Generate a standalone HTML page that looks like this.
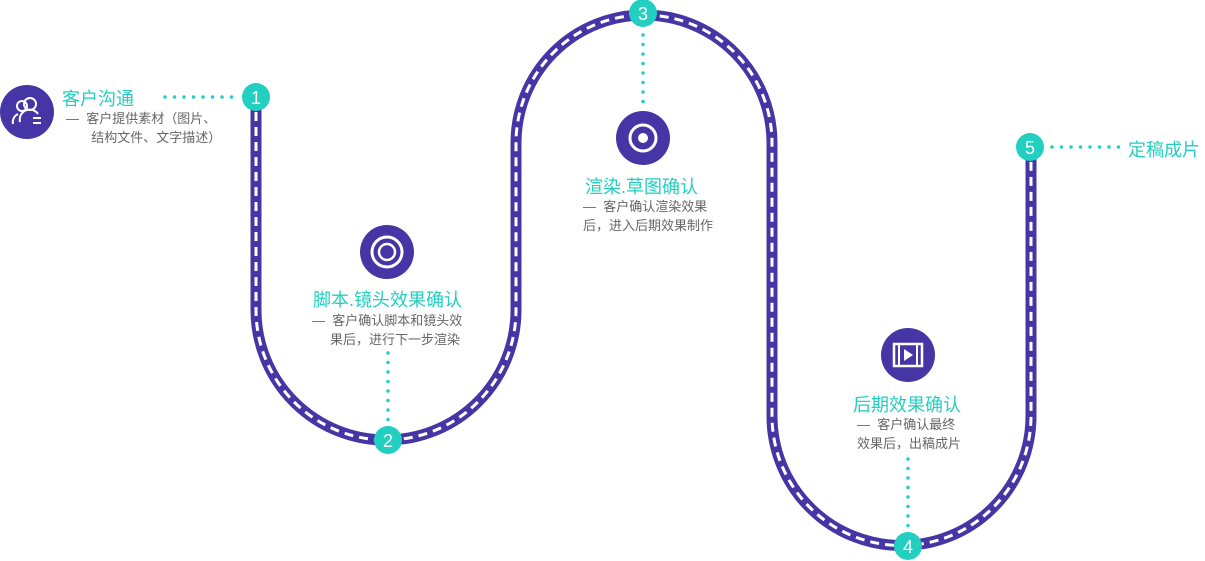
<!DOCTYPE html>
<html><head><meta charset="utf-8"><style>
body{margin:0;width:1205px;height:561px;background:#fff;overflow:hidden;position:relative;font-family:"Liberation Sans","Noto Sans CJK SC",sans-serif}
.t{position:absolute;color:#22cfc0;font-size:18px;white-space:nowrap}
.d{position:absolute;color:#666;font-size:13px;line-height:19px;white-space:nowrap}
svg{position:absolute;left:0;top:0}
</style></head><body>
<svg width="1205" height="561">
<path d="M256,97 V310 A130,130 0 0 0 516,310 V143 A128,128 0 0 1 772,143 V416 A129.5,129.5 0 0 0 1031,416 V147" fill="none" stroke="#4535a5" stroke-width="11"/>
<path d="M256,97 V310 A130,130 0 0 0 516,310 V143 A128,128 0 0 1 772,143 V416 A129.5,129.5 0 0 0 1031,416 V147" fill="none" stroke="#fff" stroke-width="3" stroke-dasharray="9 6"/>
<g stroke="#22cfc0" stroke-width="3.5" stroke-linecap="round" stroke-dasharray="0 9.5">
<line x1="165" y1="97" x2="238" y2="97"/>
<line x1="388" y1="353" x2="388" y2="420"/>
<line x1="643" y1="35" x2="643" y2="102"/>
<line x1="908" y1="459" x2="908" y2="526"/>
<line x1="1052" y1="147" x2="1120" y2="147"/>
</g>
<g fill="#22cfc0"><circle cx="256" cy="97" r="14"/><circle cx="388" cy="440" r="14"/><circle cx="643" cy="13" r="14"/><circle cx="908" cy="546" r="14"/><circle cx="1030" cy="147" r="14"/></g>
<g fill="#fff" font-size="18" text-anchor="middle" font-family="Liberation Sans,sans-serif">
<text x="256" y="104">1</text><text x="388" y="447">2</text><text x="643" y="20">3</text><text x="908" y="553">4</text><text x="1030" y="154">5</text></g>
<g fill="#4535a5"><circle cx="27" cy="112" r="27"/><circle cx="387" cy="252" r="27"/><circle cx="643" cy="138" r="27"/><circle cx="908" cy="355" r="27"/></g>
<g fill="none" stroke="#fff" stroke-width="2">
<circle cx="30" cy="104" r="6"/><path d="M20,122 a10,10 0 0 1 18,-8"/><circle cx="22" cy="106" r="5"/><path d="M13,124 a9,9 0 0 1 5,-10"/>
<path d="M33,118 h8 M33,123 h8"/>
<circle cx="387" cy="252" r="15" stroke-width="3"/><circle cx="387" cy="252" r="8" stroke-width="2.5"/>
<circle cx="643" cy="138" r="13" stroke-width="3"/>
<rect x="894" y="344" width="28" height="22" stroke-width="2.5"/><path d="M899,344v22M917,344v22"/>
</g>
<g fill="#fff"><circle cx="643" cy="138" r="5"/><path d="M904,349 l9,6 l-9,6z"/></g>
</svg>
<div class="t" style="left:62px;top:85px">客户沟通</div>
<div class="d" style="left:66px;top:109px">—&nbsp; 客户提供素材（图片、<br>&nbsp;&nbsp;&nbsp;&nbsp;&nbsp;&nbsp;&nbsp;结构文件、文字描述）</div>
<div class="t" style="left:313px;top:286px">脚本.镜头效果确认</div>
<div class="d" style="left:312px;top:311px">—&nbsp; 客户确认脚本和镜头效<br>&nbsp;&nbsp;&nbsp;&nbsp;&nbsp;果后，进行下一步渲染</div>
<div class="t" style="left:585px;top:173px">渲染.草图确认</div>
<div class="d" style="left:583px;top:197px">—&nbsp; 客户确认渲染效果<br>后，进入后期效果制作</div>
<div class="t" style="left:853px;top:391px">后期效果确认</div>
<div class="d" style="left:857px;top:415px">—&nbsp; 客户确认最终<br>效果后，出稿成片</div>
<div class="t" style="left:1128px;top:136px">定稿成片</div>
</body></html>
